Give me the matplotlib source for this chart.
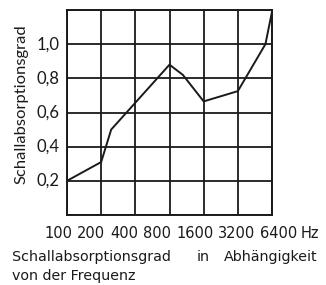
import matplotlib.pyplot as plt
import matplotlib.ticker as ticker

# frequency response
freq = [100, 200, 245, 800, 1050, 1600, 3200, 5600, 6400]
alpha = [0.20, 0.31, 0.50, 0.88, 0.82, 0.665, 0.725, 1.00, 1.19]

xticks = [100, 200, 400, 800, 1600, 3200, 6400]
xlabels = ["100", "200", "400", "800", "1600", "3200", "6400"]
yticks = [0.2, 0.4, 0.6, 0.8, 1.0]
ylabels = ["0,2", "0,4", "0,6", "0,8", "1,0"]

INK = "#1a1a1a"
W, H = 326, 285

plt.rcParams["font.family"] = ["DejaVu Sans"]

fig = plt.figure(figsize=(W / 100, H / 100), dpi=100)
ax = fig.add_axes([67 / W, 70 / H, 205 / W, 205 / H])

ax.plot(freq, alpha, color=INK, lw=1.4, solid_joinstyle="miter")

ax.set_xscale("log", base=2)
ax.set_xlim(100, 6400)
ax.set_ylim(0, 1.2)

ax.set_xticks(xticks)
ax.set_xticklabels([])
ax.xaxis.set_minor_locator(ticker.NullLocator())
ax.set_yticks([0, 0.2, 0.4, 0.6, 0.8, 1.0, 1.2])
ax.set_yticklabels([])
ax.tick_params(length=0)
ax.grid(True, color=INK, lw=1.3)
for s in ax.spines.values():
    s.set_color(INK)
    s.set_linewidth(1.4)

renderer = fig.canvas.get_renderer()


def fit(t, width):
    # scale the font so the text spans `width` pixels
    for _ in range(3):
        bb = t.get_window_extent(renderer)
        w = bb.height if t.get_rotation() == 90 else bb.width
        t.set_fontsize(t.get_fontsize() * width / w)
    return t


def px(x, y):
    return x / W, 1 - y / H


# y tick labels
for v, lab in zip(yticks, ylabels):
    ax.text(-0.035, v, lab, transform=ax.get_yaxis_transform(),
            ha="right", va="center", fontsize=12, family="Lato", color=INK)

# x labels: a typeset line under the chart, not aligned with the grid
xcent = [58, 91, 124, 157, 195, 237, 279]
for c, lab in zip(xcent, xlabels):
    fig.text(*px(c, 234), lab, ha="center", va="center", fontsize=10.5, color=INK)
fig.text(*px(310, 234), "Hz", ha="center", va="center", fontsize=10.5, color=INK)

yl = fig.text(*px(21.5, 104), "Schallabsorptionsgrad", rotation=90,
              ha="center", va="center", fontsize=10, family="Lato", color=INK)
fit(yl, 158)

# caption, first line justified
fs = 10.3
fig.text(*px(12, 257), "Schallabsorptionsgrad", ha="left", va="center", fontsize=fs, color=INK)
fig.text(*px(203, 257), "in", ha="center", va="center", fontsize=fs, color=INK)
fig.text(*px(318, 257), "Abhängigkeit", ha="right", va="center", fontsize=fs, color=INK)
fig.text(*px(12, 276), "von der Frequenz", ha="left", va="center", fontsize=fs, color=INK)

fig.savefig("out.png", dpi=100)
